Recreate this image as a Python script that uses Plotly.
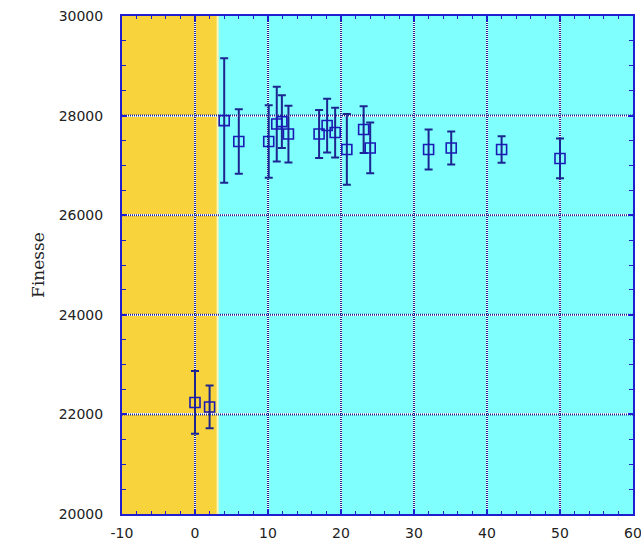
import plotly.graph_objects as go

# Measured finesse values with their uncertainties
x_vals = [0, 2, 4, 6, 10.1, 11.2, 11.9, 12.8, 17.0, 18.1, 19.2, 20.8, 23.1, 24.0, 32.0, 35.1, 42.0, 50.0]
finesse = [22240, 22150, 27900, 27480, 27480, 27830, 27880, 27630, 27630, 27800, 27660,
           27320, 27720, 27350, 27320, 27350, 27320, 27140]
finesse_err = [630, 430, 1250, 650, 730, 750, 530, 570, 480, 540, 500, 710, 470, 510, 400, 330, 265, 400]

x_range = [-10, 60]
y_range = [20000, 30000]
x_ticks = [-10, 0, 10, 20, 30, 40, 50, 60]
y_ticks = [20000, 22000, 24000, 26000, 28000, 30000]
region_split = 3.0

NAVY = "#1c2690"
BLUE = "#1f1fd0"

fig = go.Figure()

fig.add_trace(go.Scatter(
    x=x_vals, y=finesse, mode="markers",
    marker=dict(symbol="square-open", size=10, color="#1a1ab4", line=dict(width=1.6, color="#1a1ab4")),
    error_y=dict(type="data", array=finesse_err, visible=True, color=NAVY, thickness=2, width=4),
    showlegend=False,
))

shapes = [
    dict(type="rect", xref="x", yref="y", x0=x_range[0], x1=region_split, y0=y_range[0], y1=y_range[1],
         fillcolor="#f9d33b", line=dict(width=0), layer="below"),
    dict(type="line", xref="x", yref="y", x0=region_split + 0.1, x1=region_split + 0.1,
         y0=y_range[0], y1=y_range[1], line=dict(color="#fff3b0", width=2), layer="below"),
]
# dotted grid on top of the white grid lines
for gx in x_ticks[1:-1]:
    shapes.append(dict(type="line", xref="x", yref="y", x0=gx, x1=gx, y0=y_range[0], y1=y_range[1],
                       line=dict(color=NAVY, width=2, dash="1px,1px"), layer="between"))
for gy in y_ticks[1:-1]:
    shapes.append(dict(type="line", xref="x", yref="y", x0=x_range[0], x1=x_range[1], y0=gy, y1=gy,
                       line=dict(color=NAVY, width=2, dash="1px,1px"), layer="between"))

fig.update_layout(
    width=641, height=543,
    margin=dict(l=122, r=8, t=16, b=29),
    paper_bgcolor="white",
    plot_bgcolor="#80ffff",
    shapes=shapes,
    font=dict(family="DejaVu Sans", size=14, color="#222222"),
)

fig.update_xaxes(
    range=x_range, tickmode="array", tickvals=x_ticks, ticktext=[str(v) for v in x_ticks],
    showgrid=True, gridcolor="white", gridwidth=2, zeroline=False, automargin=False,
    showline=True, linecolor=BLUE, linewidth=2, mirror="allticks", ticklabeloverflow="allow",
    ticks="inside", ticklen=5, tickwidth=2, tickcolor=BLUE, ticklabelstandoff=5,
    minor=dict(dtick=2, ticks="inside", ticklen=3, tickcolor=BLUE, tickwidth=1, showgrid=False),
)
fig.update_yaxes(
    range=y_range, tickmode="array", tickvals=y_ticks, ticktext=[str(v) for v in y_ticks],
    showgrid=True, gridcolor="white", gridwidth=2, zeroline=False, automargin=False,
    showline=True, linecolor=BLUE, linewidth=2, mirror="allticks", ticklabeloverflow="allow",
    ticks="inside", ticklen=5, tickwidth=2, tickcolor=BLUE, ticklabelstandoff=14,
    minor=dict(dtick=500, ticks="inside", ticklen=4, tickcolor=BLUE, tickwidth=1, showgrid=False),
    title=dict(text="Finesse", font=dict(family="DejaVu Serif", size=17, color="#222222"), standoff=10),
)

fig.write_html("out.html")
